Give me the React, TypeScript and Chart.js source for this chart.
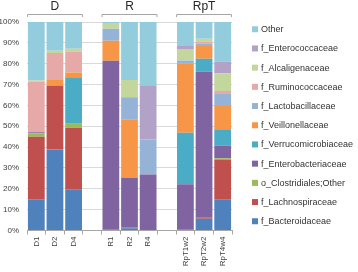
import React, { useEffect, useRef } from "react";
import { Chart, registerables } from "chart.js";

Chart.register(...registerables);

const categories = ["D1", "D2", "D4", "", "R1", "R2", "R4", "", "RpT1w2", "RpT2w2", "RpT4w4"];
const groups = [
  { label: "D", start: 0, end: 2 },
  { label: "R", start: 4, end: 6 },
  { label: "RpT", start: 8, end: 10 },
];
const yTicks = [0, 10, 20, 30, 40, 50, 60, 70, 80, 90, 100];

const bacteroidaceae = [15, 38.8, 19.6, null, 0, 1.1, 0, null, 0, 5.6, 14.8];
const lachnospiraceae = [30, 30.5, 29.7, null, 0.3, 0.3, 0, null, 0.4, 0.8, 19.2];
const clostridialesOther = [1.6, 0.5, 1.9, null, 0, 0, 0, null, 0, 0, 0.7];
const enterobacteriaceae = [0.5, 0, 0, null, 81.1, 23.8, 26.8, null, 21.8, 69.9, 5.9];
const verrucomicrobiaceae = [0, 0, 22.3, null, 0, 0, 0, null, 24.7, 6.1, 8];
const veillonellaceae = [0, 2.4, 2.3, null, 9.6, 28.1, 0, null, 33.1, 6.1, 11.1];
const lactobacillaceae = [0, 0, 0, null, 5.8, 10.6, 16.9, null, 1.5, 1.1, 6.1];
const ruminococcaceae = [24.4, 12.9, 10.1, null, 0, 0, 0, null, 0, 1.1, 1.1];
const alcaligenaceae = [0.5, 1.1, 1.3, null, 2.7, 8.3, 0, null, 5.5, 1.3, 8.5];
const enterococcaceae = [0, 0, 0, null, 0, 0, 25.6, null, 1.5, 0, 5.6];
const other = [28, 13.8, 12.8, null, 0.5, 27.8, 30.7, null, 11.5, 8, 19];

const seriesNames = [
  "f_Bacteroidaceae",
  "f_Lachnospiraceae",
  "o_Clostridiales;Other",
  "f_Enterobacteriaceae",
  "f_Verrucomicrobiaceae",
  "f_Veillonellaceae",
  "f_Lactobacillaceae",
  "f_Ruminococcaceae",
  "f_Alcaligenaceae",
  "f_Enterococcaceae",
  "Other",
];
const seriesValues = [
  bacteroidaceae,
  lachnospiraceae,
  clostridialesOther,
  enterobacteriaceae,
  verrucomicrobiaceae,
  veillonellaceae,
  lactobacillaceae,
  ruminococcaceae,
  alcaligenaceae,
  enterococcaceae,
  other,
];
const seriesColors = [
  "#4f81bd",
  "#c0504d",
  "#9bbb59",
  "#8064a2",
  "#4bacc6",
  "#f79646",
  "#95b3d7",
  "#e6a9a8",
  "#c3d69b",
  "#b3a2c7",
  "#93cddd",
];

const FONT = "'Liberation Sans', Arial, sans-serif";

const overlayPlugin = {
  id: "overlay",
  afterDraw(chart: any) {
    const ctx = chart.ctx;
    const x = chart.scales.x;
    const area = chart.chartArea;
    const slot = (x.right - x.left) / categories.length;
    ctx.save();
    // group headers
    groups.forEach((g) => {
      const l = x.getPixelForValue(g.start) - slot / 2 + 0.5;
      const r = x.getPixelForValue(g.end) + slot / 2 - 0.5;
      ctx.strokeStyle = "#a6a6a6";
      ctx.lineWidth = 1;
      ctx.beginPath();
      ctx.moveTo(l, 17);
      ctx.lineTo(l, 14.5);
      ctx.lineTo(r, 14.5);
      ctx.lineTo(r, 17);
      ctx.stroke();
      ctx.fillStyle = "#262626";
      ctx.font = `12px ${FONT}`;
      ctx.textAlign = "center";
      ctx.textBaseline = "middle";
      ctx.fillText(g.label, (l + r) / 2, 6.5);
    });
    // legend
    const mid = (area.top + area.bottom) / 2 - 1;
    const step = 19.2;
    const n = seriesNames.length;
    const boxX = area.right + 20;
    ctx.font = `9px ${FONT}`;
    ctx.textAlign = "left";
    ctx.textBaseline = "middle";
    for (let k = 0; k < n; k++) {
      const idx = n - 1 - k;
      const cy = mid + (k - (n - 1) / 2) * step;
      ctx.fillStyle = seriesColors[idx];
      ctx.fillRect(boxX, cy - 3, 6, 6);
      ctx.fillStyle = "#333333";
      ctx.fillText(seriesNames[idx], boxX + 9, cy + 0.5);
    }
    ctx.restore();
  },
};

export default function App() {
  const ref = useRef<HTMLCanvasElement | null>(null);
  useEffect(() => {
    if (!ref.current) return;
    const chart = new Chart(ref.current, {
      type: "bar",
      data: {
        labels: categories,
        datasets: seriesNames.map((name, i) => ({
          label: name,
          data: seriesValues[i],
          backgroundColor: seriesColors[i],
          borderWidth: 0,
          barPercentage: 0.9,
          categoryPercentage: 1,
        })),
      },
      options: {
        animation: false,
        responsive: false,
        devicePixelRatio: 1,
        layout: { padding: { top: 22, right: 126, left: 0, bottom: 0 } },
        plugins: {
          legend: { display: false },
          tooltip: { enabled: false },
        },
        scales: {
          x: {
            stacked: true,
            grid: {
              display: true,
              drawOnChartArea: false,
              drawTicks: true,
              tickLength: 4,
              color: "#a6a6a6",
              offset: true,
            },
            border: { display: true, color: "#a6a6a6" },
            ticks: {
              autoSkip: false,
              minRotation: 90,
              maxRotation: 90,
              padding: 2,
              color: "#404040",
              font: { family: FONT, size: 8 },
            },
            afterFit: (axis: any) => {
              axis.height = 41.5;
            },
          },
          y: {
            stacked: true,
            min: 0,
            max: 100,
            afterBuildTicks: (axis: any) => {
              axis.ticks = yTicks.map((v) => ({ value: v }));
            },
            grid: { color: "#d9d9d9", drawTicks: false },
            border: { display: false },
            ticks: {
              padding: 8,
              color: "#404040",
              font: { family: FONT, size: 8 },
              callback: (v: any) => `${v}%`,
            },
            afterFit: (axis: any) => {
              axis.width = 27;
            },
          },
        },
      },
      plugins: [overlayPlugin],
    });
    return () => chart.destroy();
  }, []);
  return (
    <div style={{ position: "fixed", left: 0, top: 0, width: 358, height: 272, background: "#fff" }}>
      <canvas ref={ref} width={358} height={272} />
    </div>
  );
}
